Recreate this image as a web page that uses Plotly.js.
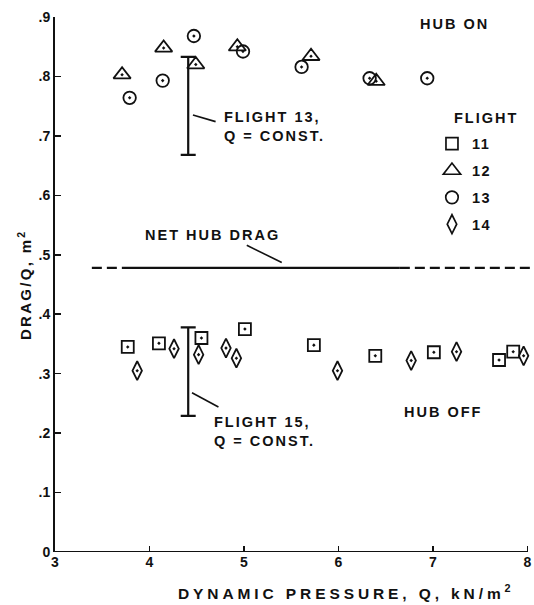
<!DOCTYPE html>
<html>
<head>
<meta charset="utf-8">
<script src="https://cdn.plot.ly/plotly-3.0.1.min.js"></script>
<style>
  html, body { margin: 0; padding: 0; background: #fff; }
  #chart { width: 534px; height: 605px; }
</style>
</head>
<body>
<div id="chart"></div>
<script>
// Drag coefficient area (DRAG/Q) against dynamic pressure, by flight
const flight11Q    = [3.77, 4.10, 4.55, 5.01, 5.74, 6.39, 7.01, 7.70, 7.85];
const flight11Drag = [0.345, 0.351, 0.360, 0.375, 0.348, 0.330, 0.336, 0.323, 0.337];

const flight12Q    = [3.71, 4.15, 4.49, 4.93, 5.71, 6.40];
const flight12Drag = [0.803, 0.848, 0.820, 0.850, 0.834, 0.792];

const flight13Q    = [3.79, 4.14, 4.47, 4.99, 5.61, 6.33, 6.94];
const flight13Drag = [0.764, 0.793, 0.868, 0.842, 0.816, 0.797, 0.797];

const flight14Q    = [3.87, 4.26, 4.52, 4.81, 4.92, 5.99, 6.77, 7.25, 7.96];
const flight14Drag = [0.305, 0.342, 0.332, 0.343, 0.326, 0.305, 0.322, 0.337, 0.330];

// Scatter at constant Q (low, high)
const flight13ConstQ = 4.41;
const flight13Spread = [0.668, 0.833];
const flight15ConstQ = 4.41;
const flight15Spread = [0.229, 0.378];

// Net hub drag level; breakpoints of dashed / solid / dashed portions
const netHubDrag = 0.478;
const hubDragBreaks = [3.39, 3.72, 6.65, 8.07];

const xTickVals = [3, 4, 5, 6, 7, 8];
const yTickVals = [0, 0.1, 0.2, 0.3, 0.4, 0.5, 0.6, 0.7, 0.8, 0.9];
const yTickText = ['0', '.1', '.2', '.3', '.4', '.5', '.6', '.7', '.8', '.9'];

const flightNames = ['11', '12', '13', '14'];

const INK = '#111';
const FONT = 'Liberation Sans, Arial, sans-serif';

// wide-tracked lettering
function spaced(text, px) {
  return '<span style="letter-spacing:' + px + 'px">' + text + '</span>';
}

function flightTrace(q, drag, symbol, size) {
  return {
    x: q, y: drag, type: 'scatter', mode: 'markers', showlegend: false,
    cliponaxis: false, hoverinfo: 'skip',
    marker: { symbol: symbol + '-open-dot', size: size, color: INK, line: { color: INK, width: 1.8 } }
  };
}

function legendTrace(name, symbol, size, group) {
  return {
    x: [null], y: [null], type: 'scatter', mode: 'markers', name: spaced(name, 1.5),
    legendgroup: group, showlegend: true,
    marker: { symbol: symbol + '-open', size: size, color: INK, line: { color: INK, width: 1.7 } }
  };
}

function spreadTrace(q, spread) {
  const mid = (spread[0] + spread[1]) / 2;
  return {
    x: [q], y: [mid], type: 'scatter', mode: 'markers', showlegend: false, hoverinfo: 'skip',
    marker: { size: 1, color: 'rgba(0,0,0,0)' },
    error_y: {
      type: 'data', symmetric: false,
      array: [spread[1] - mid], arrayminus: [mid - spread[0]],
      color: INK, thickness: 2.2, width: 7.5
    }
  };
}

function hubSegment(x0, x1, dash) {
  return {
    x: [x0, x1], y: [netHubDrag, netHubDrag], type: 'scatter', mode: 'lines',
    showlegend: false, hoverinfo: 'skip',
    line: { color: INK, width: 2.2, dash: dash }
  };
}

const data = [
  hubSegment(hubDragBreaks[0], hubDragBreaks[1], '10px,5px'),
  hubSegment(hubDragBreaks[1], hubDragBreaks[2], 'solid'),
  hubSegment(hubDragBreaks[2], hubDragBreaks[3], '10px,5px'),
  spreadTrace(flight13ConstQ, flight13Spread),
  spreadTrace(flight15ConstQ, flight15Spread),
  flightTrace(flight11Q, flight11Drag, 'square', 12),
  flightTrace(flight12Q, flight12Drag, 'triangle-up', 15),
  flightTrace(flight13Q, flight13Drag, 'circle', 12.5),
  flightTrace(flight14Q, flight14Drag, 'diamond-tall', 13.5),
  legendTrace(flightNames[0], 'square', 12, 'f11'),
  legendTrace(flightNames[1], 'triangle-up', 15, 'f12'),
  legendTrace(flightNames[2], 'circle', 12.5, 'f13'),
  legendTrace(flightNames[3], 'diamond-tall', 13.5, 'f14')
];

function label(text, x, y) {
  return { text: spaced(text, 2), x: x, y: y, xref: 'x', yref: 'y', xanchor: 'left', yanchor: 'middle',
           showarrow: false, font: { family: FONT, size: 14.5, color: INK, weight: 'bold' } };
}

function leader(x0, y0, x1, y1) {
  return { type: 'line', xref: 'x', yref: 'y', x0: x0, y0: y0, x1: x1, y1: y1,
           line: { color: INK, width: 1.6 } };
}

const tickFont = { family: FONT, size: 14, color: INK, weight: 'bold' };

const layout = {
  width: 534, height: 605,
  margin: { l: 55, r: 0, t: 17, b: 53 },
  paper_bgcolor: '#fff', plot_bgcolor: '#fff',
  showlegend: true,
  font: { family: FONT, size: 14, color: INK },
  xaxis: {
    range: [3, 8.07], tickvals: xTickVals, ticktext: xTickVals.map(String),
    ticks: 'inside', ticklen: 6, tickwidth: 1.5, tickcolor: INK,
    showline: false, showgrid: false, zeroline: false,
    tickfont: tickFont
  },
  yaxis: {
    range: [0, 0.9], tickvals: yTickVals, ticktext: yTickText,
    ticks: 'inside', ticklen: 6, tickwidth: 1.5, tickcolor: INK,
    showline: true, linecolor: INK, linewidth: 2,
    showgrid: false, zeroline: false,
    tickfont: tickFont
  },
  legend: {
    x: 0.787, xanchor: 'left', y: 0.793, yanchor: 'top',
    bgcolor: 'rgba(0,0,0,0)', borderwidth: 0,
    tracegroupgap: 5, traceorder: 'grouped',
    font: { family: FONT, size: 14.5, color: INK, weight: 'bold' }
  },
  shapes: [
    // bottom axis line, 3 to 8
    { type: 'line', xref: 'x', yref: 'y', x0: 3, x1: 8, y0: 0, y1: 0, line: { color: INK, width: 2 } },
    leader(4.46, 0.735, 4.70, 0.724),
    leader(5.03, 0.516, 5.40, 0.487),
    leader(4.45, 0.268, 4.73, 0.244)
  ],
  annotations: [
    label('HUB ON', 6.84, 0.889),
    label('FLIGHT', 7.20, 0.730),
    label('FLIGHT 13,', 4.77, 0.732),
    label('Q = CONST.', 4.77, 0.699),
    label('NET HUB DRAG', 3.93, 0.533),
    label('FLIGHT 15,', 4.66, 0.219),
    label('Q = CONST.', 4.66, 0.186),
    label('HUB OFF', 6.67, 0.236),
    { text: spaced('DYNAMIC PRESSURE, Q, kN/m<sup>2</sup>', 3.9), x: 4.28, y: -0.0748, xref: 'x', yref: 'paper',
      xanchor: 'left', yanchor: 'middle', showarrow: false,
      font: { family: FONT, size: 15.5, color: INK, weight: 'bold' } },
    { text: spaced('DRAG/Q, m<sup>2</sup>', 2.3), x: -0.0647, y: 0.449, xref: 'paper', yref: 'y',
      xanchor: 'center', yanchor: 'middle', textangle: -90, showarrow: false,
      font: { family: FONT, size: 15, color: INK, weight: 'bold' } }
  ]
};

Plotly.newPlot('chart', data, layout, { displayModeBar: false, staticPlot: true });
</script>
</body>
</html>
